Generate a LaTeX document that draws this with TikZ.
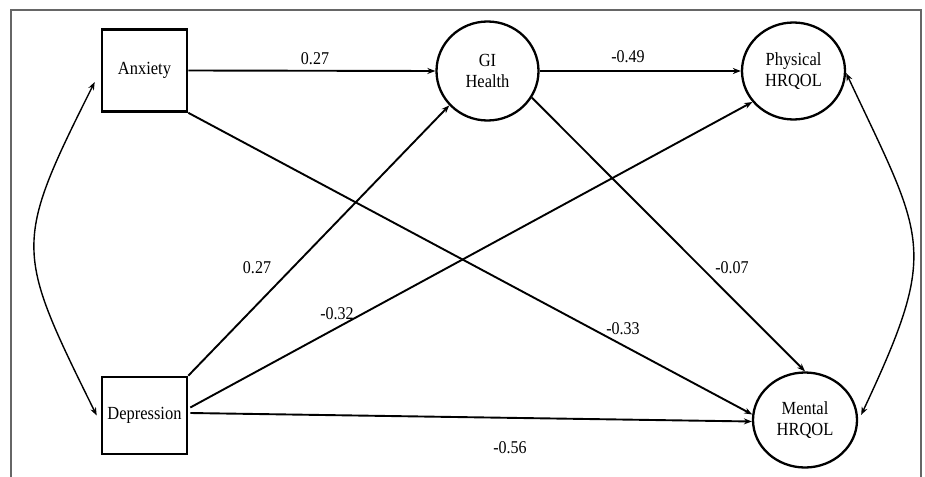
\documentclass[tikz,border=0pt]{standalone}
\usepackage{fontspec}
\setmainfont{Liberation Serif}[FakeStretch=0.89]
\usetikzlibrary{shapes.geometric,arrows.meta}
\tikzset{
  boxnode/.style={draw, line width=2.6pt, rectangle, inner sep=0pt, minimum width=85pt, align=center, font=\fontsize{18.5}{21}\selectfont},
  latent/.style={draw, line width=2.3pt, ellipse, inner sep=0pt, align=center, font=\fontsize{18.5}{21}\selectfont},
  arr/.style={line width=1.9pt, -{Stealth[length=8pt,width=6pt]}},
  dbl/.style={line width=1.4pt, {Stealth[length=8pt,width=6pt]}-{Stealth[length=8pt,width=6pt]}},
  lab/.style={inner sep=0pt, font=\fontsize{18}{20}\selectfont},
  frame/.style={draw=black!60, line width=1.3pt}
}
\begin{document}
\begin{tikzpicture}[x=1pt,y=-1pt]
\useasboundingbox (0,0) rectangle (925,476);
\fill[white] (0,0) rectangle (925,476);
\draw[frame] (11,480) -- (11,10) -- (921,10) -- (921,480);
\node[boxnode, minimum height=82pt] (anx) at (144.5,70.5) {Anxiety};
\node[boxnode, minimum height=77pt] (dep) at (144.5,415.5) {Depression};
\node[latent, minimum width=102pt, minimum height=99pt] (gi) at (487.5,71) {GI\\Health};
\node[latent, minimum width=103pt, minimum height=97pt] (phys) at (793.5,71) {Physical\\HRQOL};
\node[latent, minimum width=104pt, minimum height=95pt] (ment) at (805,420) {Mental\\HRQOL};
% paths
\draw[arr] (anx.east) -- (gi.west);
\draw[arr] (gi.east) -- (phys.west);
\draw[arr] (anx.south east) -- (ment.174);
\draw[arr] (dep.north east) -- (gi.222);
\draw[arr] ([yshift=8pt,xshift=2pt]dep.east) -- (phys.217);
\draw[arr] ([yshift=2.5pt,xshift=2pt]dep.east) -- ([yshift=-1.5pt]ment.west);
\draw[arr] (gi.-31) -- (ment.north);
% covariances
\coordinate (ca) at ([xshift=-6pt,yshift=-11.5pt]anx.west);
\coordinate (cd) at ([xshift=-4pt]dep.west);
\draw[dbl] (ca) .. controls (13,245) and (15,250) .. (cd);
\coordinate (cp) at ([yshift=-2pt]phys.east);
\coordinate (cm) at ([xshift=3pt,yshift=5pt]ment.east);
\draw[dbl] (cp) .. controls (925,241) and (940,247) .. (cm);
% labels
\node[lab] (l1) at (315,59) {0.27};
\node[lab] (l2) at (628,57) {-0.49};
\node[lab] (l3) at (257,268) {0.27};
\node[lab] (l4) at (337,314) {-0.32};
\node[lab] (l5) at (623,329) {-0.33};
\node[lab] (l6) at (732,268) {-0.07};
\node[lab] (l7) at (510,448) {-0.56};
\end{tikzpicture}
\end{document}
